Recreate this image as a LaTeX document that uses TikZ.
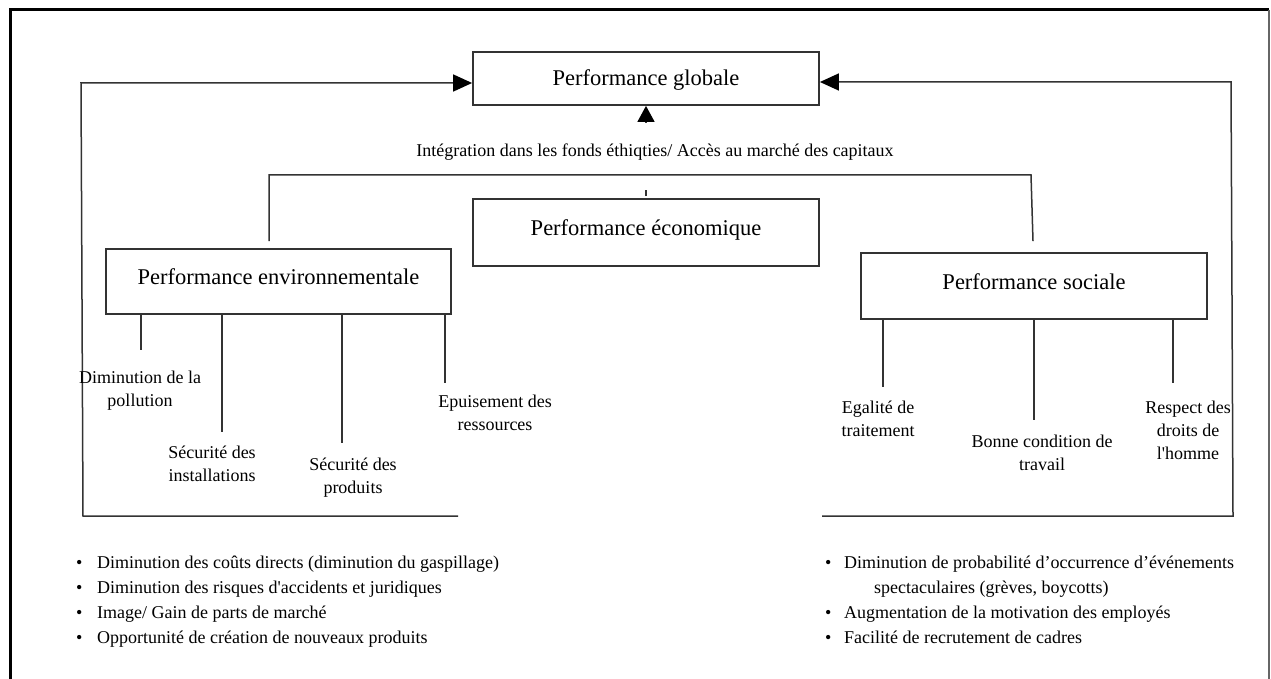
\documentclass[tikz,border=0pt]{standalone}
\usepackage{fontspec}
\setmainfont{Liberation Serif}
\usetikzlibrary{arrows.meta,calc}
\begin{document}
\begin{tikzpicture}[x=1pt,y=-1pt,
  box/.style={draw=black!80, line width=1.8pt, minimum width=346pt, inner sep=0pt,
              font=\fontsize{22.5}{27}\selectfont},
  lowtext/.style={text height=10pt, text depth=4pt},
  conn/.style={draw=black!80, line width=1.5pt},
  tip/.style={-{Triangle[length=19pt,width=17pt,color=black]}},
  lbl/.style={anchor=base, inner sep=0pt, font=\fontsize{18}{23}\selectfont},
  item/.style={anchor=base west, inner sep=0pt, font=\fontsize{18}{25}\selectfont},
]
\useasboundingbox (0,0) rectangle (1271,679);

% outer frame
\draw[line width=3pt] (10,679) -- (10,10) -- (1269,10);
\draw[line width=1.2pt, black!60] (1269,10) -- (1269,679);

% boxes
\node[box, text height=17pt, text depth=3pt, minimum height=53pt] (glob) at (646,78.5) {Performance globale};
\node[box, lowtext, minimum height=67pt] (econ) at (646,232.5) {Performance économique};
\node[box, lowtext, minimum width=345pt, minimum height=65pt] (env) at (278.5,281.5) {Performance environnementale};
\node[box, lowtext, minimum height=66pt] (soc) at (1034,286) {Performance sociale};

% text between the global and economic boxes
\node[lbl] (integ) at (655,157) {Intégration dans les fonds éthiqties/ Accès au marché des capitaux};

% feedback loops into the global box
\coordinate (tl) at (81,83);
\coordinate (bl) at (83,516);
\coordinate (bl2) at (458,516);
\coordinate (tr) at (1231,82);
\coordinate (br) at (1233,516);
\coordinate (br2) at (822,516);
\draw[conn, tip] (bl2) -- (bl) -- (tl) -- (tl -| glob.west);
\draw[conn, tip] (br2) -- (br) -- (tr) -- (tr -| glob.east);

% upward arrow under the global box
\draw[conn, -{Triangle[length=16pt,width=17pt,color=black]}] ([yshift=-16pt]glob.south) -- (glob.south);

% bar joining environmental and social performance
\coordinate (barL) at (269,175);
\coordinate (barR) at (1031,175);
\draw[conn] ([xshift=-9.5pt,yshift=7pt]env.north) -- (barL) -- (barR) -- ([xshift=-1pt,yshift=11pt]soc.north);
\draw[conn] ([yshift=2pt]econ.north) -- ++(0,-6);

% environmental branches
\draw[conn] ([xshift=-137.5pt]env.south) -- ++(0,35);
\draw[conn] ([xshift=-56.5pt]env.south) -- ++(0,117);
\draw[conn] ([xshift=63.5pt]env.south) -- ++(0,128);
\draw[conn] ([xshift=166.5pt]env.south) -- ++(0,68);

\node[lbl] (pol) at (140,383) {\begin{tabular}[t]{@{}c@{}}Diminution de la\\pollution\end{tabular}};
\node[lbl] (inst) at (212,458) {\begin{tabular}[t]{@{}c@{}}Sécurité des\\installations\end{tabular}};
\node[lbl] (prod) at (353,470) {\begin{tabular}[t]{@{}c@{}}Sécurité des\\produits\end{tabular}};
\node[lbl] (epu) at (495,407) {\begin{tabular}[t]{@{}c@{}}Epuisement des\\ressources\end{tabular}};

% social branches
\draw[conn] ([xshift=-151pt]soc.south) -- ++(0,67);
\draw[conn] (soc.south) -- ++(0,100);
\draw[conn] ([xshift=139pt]soc.south) -- ++(0,63);

\node[lbl] (ega) at (878,413) {\begin{tabular}[t]{@{}c@{}}Egalité de\\traitement\end{tabular}};
\node[lbl] (bon) at (1042,447) {\begin{tabular}[t]{@{}c@{}}Bonne condition de\\travail\end{tabular}};
\node[lbl] (resp) at (1188,413) {\begin{tabular}[t]{@{}c@{}}Respect des\\droits de\\l\textquotesingle homme\end{tabular}};

% benefit lists
\node[item] (la) at (76,568) {\makebox[21pt][l]{\textbullet}Diminution des coûts directs (diminution du gaspillage)};
\node[item] (lb) at (76,593) {\makebox[21pt][l]{\textbullet}Diminution des risques d\textquotesingle accidents et juridiques};
\node[item] (lc) at (76,618) {\makebox[21pt][l]{\textbullet}Image/ Gain de parts de marché};
\node[item] (ld) at (76,643) {\makebox[21pt][l]{\textbullet}Opportunité de création de nouveaux produits};

\node[item] (ra) at (825,568) {\makebox[19pt][l]{\textbullet}Diminution de probabilité d’occurrence d’événements};
\node[item] (rb) at (825,593) {\hspace*{49pt}spectaculaires (grèves, boycotts)};
\node[item] (rc) at (825,618) {\makebox[19pt][l]{\textbullet}Augmentation de la motivation des employés};
\node[item] (rd) at (825,643) {\makebox[19pt][l]{\textbullet}Facilité de recrutement de cadres};
\end{tikzpicture}
\end{document}
